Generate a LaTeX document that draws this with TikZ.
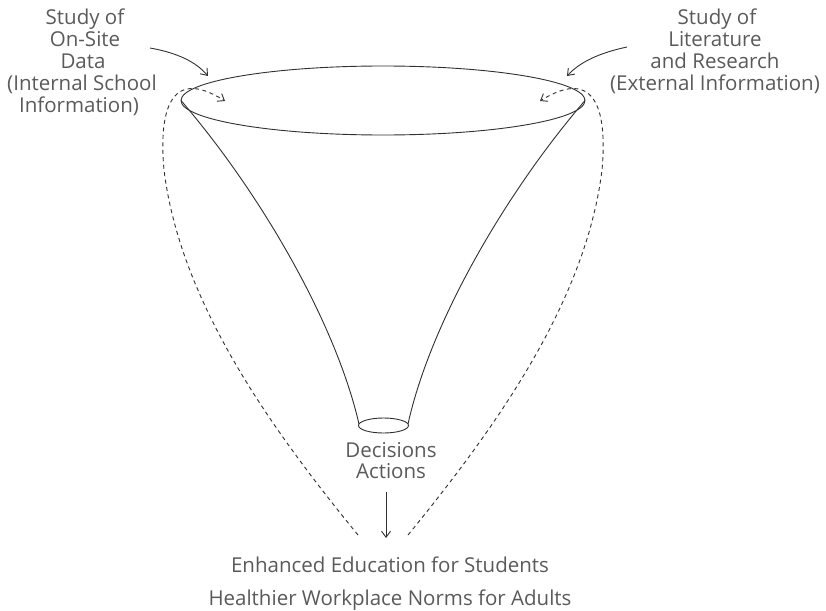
\documentclass[tikz,border=0pt]{standalone}
\usepackage{fontspec}
\setmainfont{Open Sans}
\usetikzlibrary{arrows.meta}
\definecolor{txt}{HTML}{5A5A5A}
\definecolor{ln}{HTML}{303030}
\begin{document}
\begin{tikzpicture}[x=1pt,y=-1pt,
  lbl/.style={anchor=base,inner sep=0pt,text=txt,font=\fontsize{20.5}{22}\selectfont},
  solidline/.style={draw=ln,line width=0.9pt},
  dashline/.style={draw=ln,line width=0.9pt,dash pattern=on 4pt off 3.5pt},
  tip/.style={-{Straight Barb[length=6pt,width=9pt,line width=0.9pt]}}]
\useasboundingbox (0,0) rectangle (826,610);
% funnel
\coordinate (topc) at (383,100.5);
\coordinate (tl) at (181,100.5);
\coordinate (tr) at (585,100.5);
\coordinate (bl) at (359,424);
\coordinate (br) at (408,424);
\draw[solidline] (topc) ellipse [x radius=202, y radius=34.5];
\draw[solidline] (383.5,425.5) ellipse [x radius=25, y radius=7.5];
\draw[solidline] (tl) .. controls (258,190) and (335,320) .. (bl);
\draw[solidline] (tr) .. controls (508,190) and (431,320) .. (br);
% texts
\node[lbl] (l1) at (85,25) {Study of};
\node[lbl] (l2) at (85,47) {On-Site};
\node[lbl] (l3) at (83,68) {Data};
\node[lbl] (l4) at (82,90) {(Internal School};
\node[lbl] (l5) at (79,112) {Information)};
\node[lbl] (r1) at (717,25) {Study of};
\node[lbl] (r2) at (715,47) {Literature};
\node[lbl] (r3) at (715,68) {and Research};
\node[lbl] (r4) at (715,90) {(External Information)};
\node[lbl] (dec) at (391,457.5) {Decisions};
\node[lbl] (act) at (391,478.5) {Actions};
\node[lbl] (out1) at (390,572) {Enhanced Education for Students};
\node[lbl] (out2) at (390,605) {Healthier Workplace Norms for Adults};
% solid arrows
\coordinate (la0) at (150,48);
\coordinate (la1) at (208,76);
\coordinate (ra0) at (627,47);
\coordinate (ra1) at (567,76);
\draw[solidline,tip] (la0) .. controls (178,53) and (196,62) .. (la1);
\draw[solidline,tip] (ra0) .. controls (599,53) and (580,62) .. (ra1);
% dashed loops
\coordinate (dl0) at (358,535);
\coordinate (dl1) at (225,101);
\coordinate (dr0) at (408,535);
\coordinate (dr1) at (540,101);
\draw[dashline,tip] (dl0) .. controls (268,425) and (180,300) .. (164,170)
   .. controls (159,115) and (168,65) .. (dl1);
\draw[dashline,tip] (dr0) .. controls (498,425) and (586,300) .. (602,170)
   .. controls (607,115) and (598,65) .. (dr1);
% down arrow
\coordinate (d0) at (386,492);
\coordinate (d1) at (386,538);
\draw[solidline,tip] (d0) -- (d1);
\end{tikzpicture}
\end{document}
